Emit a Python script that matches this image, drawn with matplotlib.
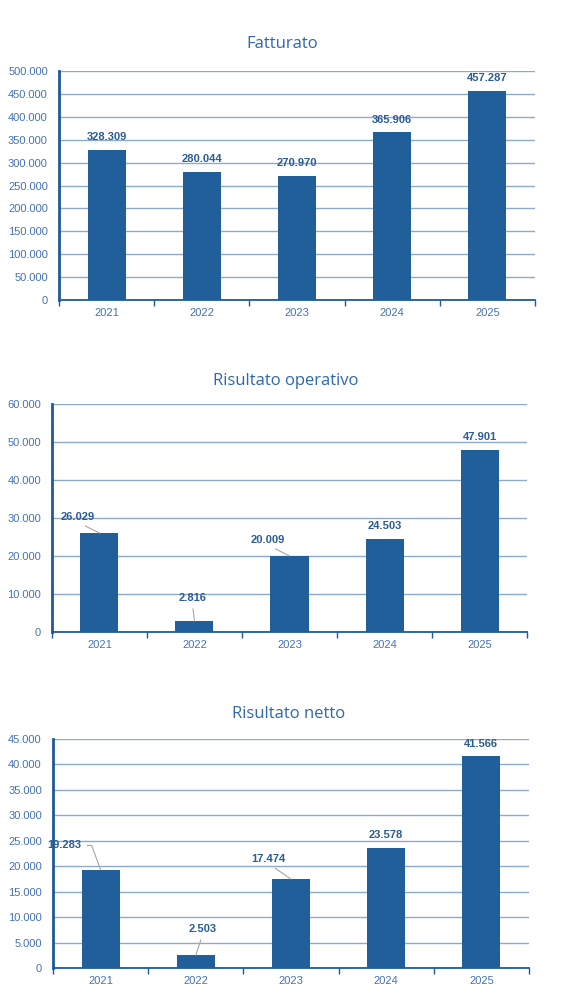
import matplotlib
matplotlib.use("Agg")
import matplotlib.pyplot as plt
from matplotlib.ticker import FuncFormatter, MultipleLocator, FixedLocator

anni = ["2021", "2022", "2023", "2024", "2025"]
fatturato = [328309, 280044, 270970, 365906, 457287]
ris_operativo = [26029, 2816, 20009, 24503, 47901]
ris_netto = [19283, 2503, 17474, 23578, 41566]

BAR = "#215F9A"
TICK = "#4472B4"
TITLE = "#2E68AA"
GRID = "#8DAACB"
SPINE = "#1F5A96"

def fmt_it(v, pos=None):
    return f"{int(round(v)):,}".replace(",", ".")

fig = plt.figure(figsize=(5.79, 10.06), dpi=100)

# (axes rect, data, title, title pos, ymax, step, label offsets in points, leader line)
charts = [
    ([0.1019, 0.7018, 0.822, 0.2276], fatturato, "Fatturato", (0.487, 0.956), 500000, 50000,
     [(0, 5.5)] * 5, [None] * 5),
    ([0.0898, 0.3718, 0.8204, 0.2266], ris_operativo, "Risultato operativo", (0.494, 0.621), 60000, 10000,
     [(-16, 8), (-1.5, 13), (-16, 8), (0, 5.5), (0, 5.5)], [(0.5, 0), (0.5, 0), (0.5, 0), None, None]),
    ([0.0915, 0.0378, 0.822, 0.2276], ris_netto, "Risultato netto", (0.499, 0.290), 45000, 5000,
     [(-26, 14), (5, 15), (-16, 11), (0, 5.5), (0, 5.5)], [(1, 0.5), (0.5, 0), (0.5, 0), None, None]),
]

for rect, vals, title, tpos, ymax, step, offs, lines in charts:
    ax = fig.add_axes(rect)
    x = range(len(anni))
    ax.bar(x, vals, width=0.4, color=BAR, zorder=3)
    ax.set_xlim(-0.5, len(anni) - 0.5)
    ax.set_ylim(0, ymax)
    ax.yaxis.set_major_locator(MultipleLocator(step))
    ax.yaxis.set_major_formatter(FuncFormatter(fmt_it))
    ax.grid(axis="y", color=GRID, linewidth=1.0, zorder=0)
    ax.set_axisbelow(True)

    # etichette al centro, tacche sui confini delle categorie
    ax.set_xticks(list(x))
    ax.set_xticklabels(anni)
    ax.tick_params(axis="x", which="major", length=0, pad=6, labelsize=8, labelcolor=TICK)
    ax.xaxis.set_minor_locator(FixedLocator([i - 0.5 for i in range(len(anni) + 1)]))
    ax.tick_params(axis="x", which="minor", length=4, width=1, color=SPINE, direction="out")
    ax.tick_params(axis="y", length=0, pad=8, labelsize=8, labelcolor=TICK)
    for lab in ax.get_xticklabels() + ax.get_yticklabels():
        lab.set_family("Liberation Sans")

    for s in ["top", "right"]:
        ax.spines[s].set_visible(False)
    ax.spines["left"].set_color(SPINE)
    ax.spines["left"].set_linewidth(2)
    ax.spines["bottom"].set_color(SPINE)
    ax.spines["bottom"].set_linewidth(1.3)

    fig.text(tpos[0], tpos[1], title, fontsize=12, color=TITLE, family="Open Sans",
             ha="center", va="center")

    for i, v in enumerate(vals):
        dx, dy = offs[i]
        arrow = None
        if lines[i] is not None:
            arrow = dict(arrowstyle="-", color="#A6A6A6", lw=0.8, shrinkA=2, shrinkB=0,
                         relpos=lines[i])
            if lines[i] == (1, 0.5):
                # tratto orizzontale e poi obliquo verso la barra
                arrow["connectionstyle"] = "angle,angleA=0,angleB=110,rad=0"
        ax.annotate(fmt_it(v), xy=(i, v), xytext=(dx, dy), textcoords="offset points",
                    ha="center", va="bottom", fontsize=8, fontweight="bold",
                    color="#2A5C96", family="Liberation Sans", arrowprops=arrow, zorder=4)

fig.savefig("out.png", dpi=100)
